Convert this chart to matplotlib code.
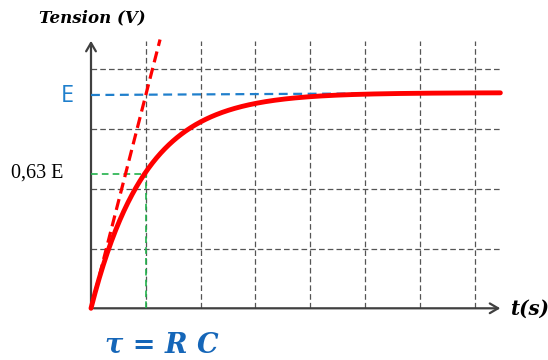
import numpy as np
import matplotlib
matplotlib.use("Agg")
import matplotlib.pyplot as plt

# ---- data (units: t in tau, v in grid units) ----
tau = 1.0
E_left = 3.567      # blue E line level at the axis
E_right = 3.605     # blue E line level at the right end (asymptote)
t_max = 7.47
v_max = 4.47
grid_x = [1, 2, 3, 4, 5, 6, 7]
grid_y = [1, 2, 3, 4]
tangent_t_end = 1.26

fig = plt.figure(figsize=(5.48, 3.60), dpi=100)
ax = fig.add_axes([0, 0, 1, 1])
ax.set_xlim(-91 / 54.8, (548 - 91) / 54.8)
ax.set_ylim(-(360 - 308.3) / 59.8, 308.3 / 59.8)
ax.axis("off")

gc = "#555555"
for gx in grid_x:
    ax.plot([gx, gx], [0, v_max], color=gc, lw=0.9, ls=(0, (4.5, 2.5)), zorder=1)
for gy in grid_y:
    ax.plot([0, t_max], [gy, gy], color=gc, lw=0.9, ls=(0, (4.5, 2.5)), zorder=1)

# axes with arrows
axc = "#404040"
ax.annotate("", xy=(t_max + 0.05, 0), xytext=(0, 0),
            arrowprops=dict(arrowstyle="->,head_length=0.6,head_width=0.35", color=axc, lw=1.6), zorder=3)
ax.annotate("", xy=(0, v_max + 0.05), xytext=(0, 0),
            arrowprops=dict(arrowstyle="->,head_length=0.6,head_width=0.35", color=axc, lw=1.6), zorder=3)

# E line (blue dashed)
ax.plot([0, t_max], [E_left, E_right], color="#1f7fcc", lw=1.6, ls=(0, (4, 2.5)), zorder=4)

# charge curve
t = np.linspace(0, t_max, 400)
v = E_right * (1 - np.exp(-t / tau))
ax.plot(t, v, color="#ff0000", lw=3.5, zorder=5, solid_capstyle="round")

# tangent at origin
ax.plot([0, tangent_t_end], [0, E_left * tangent_t_end / tau], color="#ff0000", lw=2.3,
        ls=(0, (3.5, 1.8)), zorder=5)

# 0.63 E markers (green)
v63 = 0.63 * E_left
ax.plot([0, tau], [v63, v63], color="#22b14c", lw=1.2, ls=(0, (4, 2.5)), zorder=4)
ax.plot([tau, tau], [0, v63], color="#22b14c", lw=1.2, ls=(0, (4, 2.5)), zorder=4)

# texts
ax.text(0.02, 4.85, "Tension (V)", family="DejaVu Serif", fontweight="bold", style="italic",
        fontsize=12, ha="center", va="center", color="black")
ax.text(-0.44, E_left - 0.02, "E", family="Open Sans", fontsize=17, ha="center", va="center",
        color="#1f7fcc")
ax.text(-0.5, v63 + 0.02, "0,63 E", family="Liberation Serif", fontsize=14.5, ha="right",
        va="center", color="black")
ax.text(t_max + 0.18, 0, "t(s)", family="DejaVu Serif", fontweight="bold", style="italic",
        fontsize=14.2, ha="left", va="center", color="black")
ax.text(1.30, -0.61, "τ = R C", family="DejaVu Serif", fontweight="bold", style="italic",
        fontsize=19.5, ha="center", va="center", color="#1566b8")

fig.savefig("out.png", dpi=100)
